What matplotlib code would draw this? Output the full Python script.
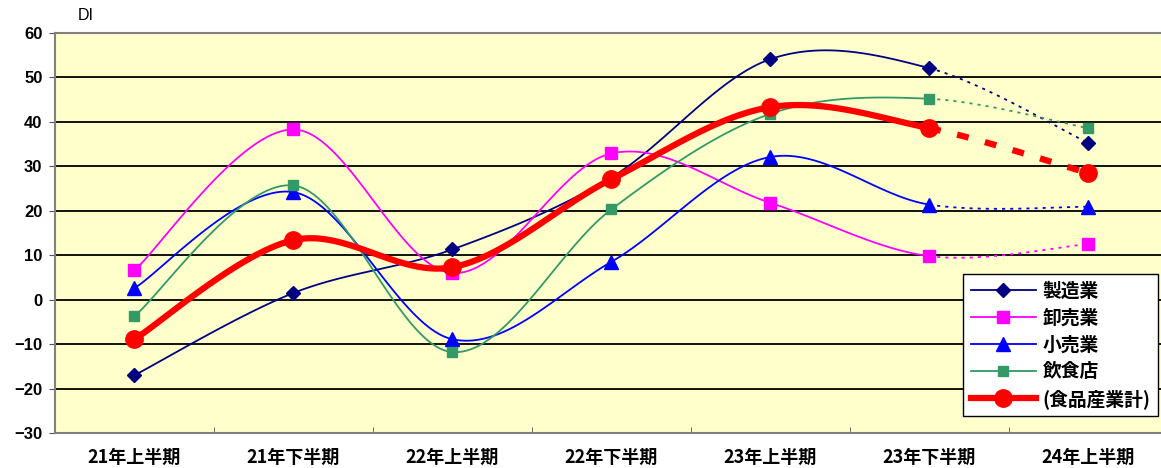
import numpy as np
import matplotlib
matplotlib.use("Agg")
import matplotlib.pyplot as plt
from matplotlib.lines import Line2D

categories = ["21年上半期", "21年下半期", "22年上半期", "22年下半期", "23年上半期", "23年下半期", "24年上半期"]
seizo = [-17.0, 1.5, 11.3, 27.5, 54.1, 52.1, 35.3]
oroshi = [6.6, 38.3, 6.0, 32.9, 21.8, 9.8, 12.5]
kouri = [2.6, 24.2, -8.9, 8.5, 32.1, 21.4, 20.9]
inshoku = [-3.7, 25.7, -11.8, 20.3, 41.8, 45.2, 38.6]
total = [-8.9, 13.4, 7.3, 27.1, 43.3, 38.6, 28.5]
series_names = ["製造業", "卸売業", "小売業", "飲食店", "(食品産業計)"]
yticks = list(range(-30, 61, 10))

plt.rcParams['font.family'] = ['Liberation Sans', 'Noto Sans CJK JP', 'DejaVu Sans']
plt.rcParams['axes.unicode_minus'] = True

def smooth(xs, ys, n=40):
    xs = np.asarray(xs, float); ys = np.asarray(ys, float)
    P = np.column_stack([xs, ys])
    out = []
    for i in range(len(P) - 1):
        p0 = P[i - 1] if i > 0 else P[i]
        p1 = P[i]; p2 = P[i + 1]
        p3 = P[i + 2] if i + 2 < len(P) else P[i + 1]
        c1 = p1 + (p2 - p0) / 6.0
        c2 = p2 - (p3 - p1) / 6.0
        t = np.linspace(0, 1, n)[:, None]
        b = (1 - t) ** 3 * p1 + 3 * (1 - t) ** 2 * t * c1 + 3 * (1 - t) * t ** 2 * c2 + t ** 3 * p2
        out.append(b)
    return out

W, H = 11.61, 4.68
fig = plt.figure(figsize=(W, H), dpi=100)
L, R, T, B = 55, 1161, 33, 433
ax = fig.add_axes([L / 1161, 1 - B / 468, (R - L) / 1161, (B - T) / 468])
ax.set_facecolor("#FFFFCC")

x = np.arange(len(categories))
specs = [
    (seizo, "#000080", "D", 7, 1.3, (0, (1.7, 2.8))),
    (oroshi, "#FF00FF", "s", 9, 1.3, (0, (1.7, 2.8))),
    (kouri, "#0000FF", "^", 10, 1.3, (0, (1.7, 2.8))),
    (inshoku, "#339966", "s", 7, 1.3, (0, (1.7, 2.8))),
    (total, "#FF0000", "o", 12.5, 4.5, (0, (1.9, 2.7))),
]
handles = []
for idx, (vals, col, mk, ms, lw, dash) in enumerate(specs):
    segs = smooth(x, vals)
    z = 3 + idx
    for i, s in enumerate(segs):
        ls = '-' if i < len(segs) - 1 else dash
        ax.plot(s[:, 0], s[:, 1], color=col, lw=lw, ls=ls, zorder=z,
                solid_capstyle='butt', dash_capstyle='butt')
    ax.plot(x, vals, ls='none', marker=mk, ms=ms, color=col, mec=col, zorder=z + 0.5)
    handles.append(Line2D([], [], color=col, lw=lw, marker=mk, ms=ms, mec=col, mfc=col))

ax.set_ylim(-30, 60)
ax.set_xlim(-0.5, (R - 134) / 159.0)
ax.set_yticks(yticks)
ax.set_yticklabels([str(v).replace('-', '\u2212') for v in yticks], fontsize=12, fontweight='bold')
for v in yticks[1:-1]:
    ax.axhline(v, color='black', lw=1.3, zorder=1)
ax.set_xticks(x)
ax.set_xticklabels(categories, fontsize=13, fontweight='bold', family=['Noto Sans CJK JP'])
ax.set_xticks(np.arange(len(categories) - 1) + 0.5, minor=True)
ax.tick_params(axis='x', which='major', length=0, pad=11)
ax.tick_params(axis='x', which='minor', length=4, color='#555555', direction='in')
ax.tick_params(axis='y', length=4, color='#555555', direction='out', pad=5)
for side in ['top', 'left', 'bottom']:
    ax.spines[side].set_color('#808080')
    ax.spines[side].set_linewidth(1.5)
ax.spines['right'].set_visible(False)

fig.text(78 / 1161, 1 - 15 / 468, "DI", fontsize=11.5, ha='left', va='center')

leg = fig.legend(handles, series_names, loc='upper left',
                 bbox_to_anchor=(963 / 1161, 1 - 274 / 468),
                 prop={'family': ['Noto Sans CJK JP'], 'weight': 'bold', 'size': 13.5},
                 frameon=True, fancybox=False, edgecolor='black', facecolor='white',
                 framealpha=1, handlelength=3.5, labelspacing=0.42, borderpad=0.4,
                 handletextpad=0.35, borderaxespad=0)
leg.get_frame().set_linewidth(1.0)

fig.savefig("out.png", dpi=100)
